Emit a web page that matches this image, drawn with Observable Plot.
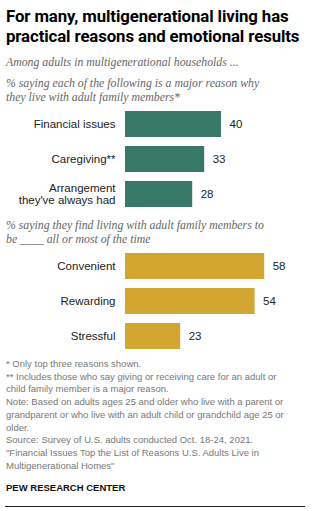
<!DOCTYPE html>
<html><head><meta charset="utf-8">
<script src="https://cdn.jsdelivr.net/npm/d3@7"></script>
<script src="https://cdn.jsdelivr.net/npm/@observablehq/plot@0.6"></script>
<style>
body{margin:0;background:#fff;width:332px;height:511px;position:relative;overflow:hidden;font-family:"Liberation Sans",Arial,sans-serif;}
.abs{position:absolute;left:6px;}
#title{top:6px;font-family:Roboto,"Liberation Sans",sans-serif;font-weight:700;font-size:16.8px;line-height:20px;color:#000;letter-spacing:-0.1px;}
.sub{font-family:"Liberation Serif","DejaVu Serif",serif;font-style:italic;color:#666;font-size:11.8px;line-height:13.5px;white-space:nowrap;}
#notes{top:358px;font-size:9.5px;line-height:12.7px;color:#777;width:320px;}
#pew{top:482px;font-size:9.5px;font-weight:700;color:#111;}
#rule{top:506px;left:5px;width:300px;height:1px;background:#222;}
.plot{position:absolute;left:0;}
</style></head><body>
<div id="title" class="abs">For many, multigenerational living has<br>practical reasons and emotional results</div>
<div class="abs sub" style="top:56px;">Among adults in multigenerational households ...</div>
<div class="abs sub" style="top:77px;">% saying each of the following is a major reason why<br>they live with adult family members*</div>
<div id="p1" class="plot" style="top:104px;"></div>
<div class="abs sub" style="top:219px;">% saying they find living with adult family members to<br>be ____ all or most of the time</div>
<div id="p2" class="plot" style="top:246px;"></div>
<div id="notes" class="abs">* Only top three reasons shown.<br>** Includes those who say giving or receiving care for an adult or<br>child family member is a major reason.<br>Note: Based on adults ages 25 and older who live with a parent or<br>grandparent or who live with an adult child or grandchild age 25 or<br>older.<br>Source: Survey of U.S. adults conducted Oct. 18-24, 2021.<br>"Financial Issues Top the List of Reasons U.S. Adults Live in<br>Multigenerational Homes"</div>
<div id="pew" class="abs">PEW RESEARCH CENTER</div>
<div id="rule" class="abs"></div>
<script>
const reasons = ["Financial issues", "Caregiving**", "Arrangement\nthey've always had"];
const reasonValues = [40, 33, 28];
const feelings = ["Convenient", "Rewarding", "Stressful"];
const feelingValues = [58, 54, 23];

function chart(cats, vals, color) {
  const data = cats.map((c, i) => ({cat: c, value: vals[i]}));
  return Plot.plot({
    width: 332,
    height: 109,
    marginLeft: 125,
    marginRight: 15,
    marginTop: 2,
    marginBottom: 2,
    style: {fontFamily: '"Liberation Sans", Arial, sans-serif', fontSize: "11.5px", color: "#222", background: "transparent"},
    x: {domain: [0, 80], axis: null},
    y: {domain: cats, paddingInner: 0.27, paddingOuter: 0.135, label: null},
    marks: [
      Plot.barX(data, {x: "value", y: "cat", fill: color}),
      Plot.axisY({tickSize: 0, tickPadding: 10, label: null, fontSize: "11.5px", lineHeight: 1.0}),
      Plot.text(data, {x: "value", y: "cat", text: d => String(d.value), dx: 8, textAnchor: "start", fill: "#222", fontSize: "11.5px"})
    ]
  });
}
document.getElementById("p1").append(chart(reasons, reasonValues, "#377866"));
document.getElementById("p2").append(chart(feelings, feelingValues, "#d3a630"));
</script>
</body></html>
